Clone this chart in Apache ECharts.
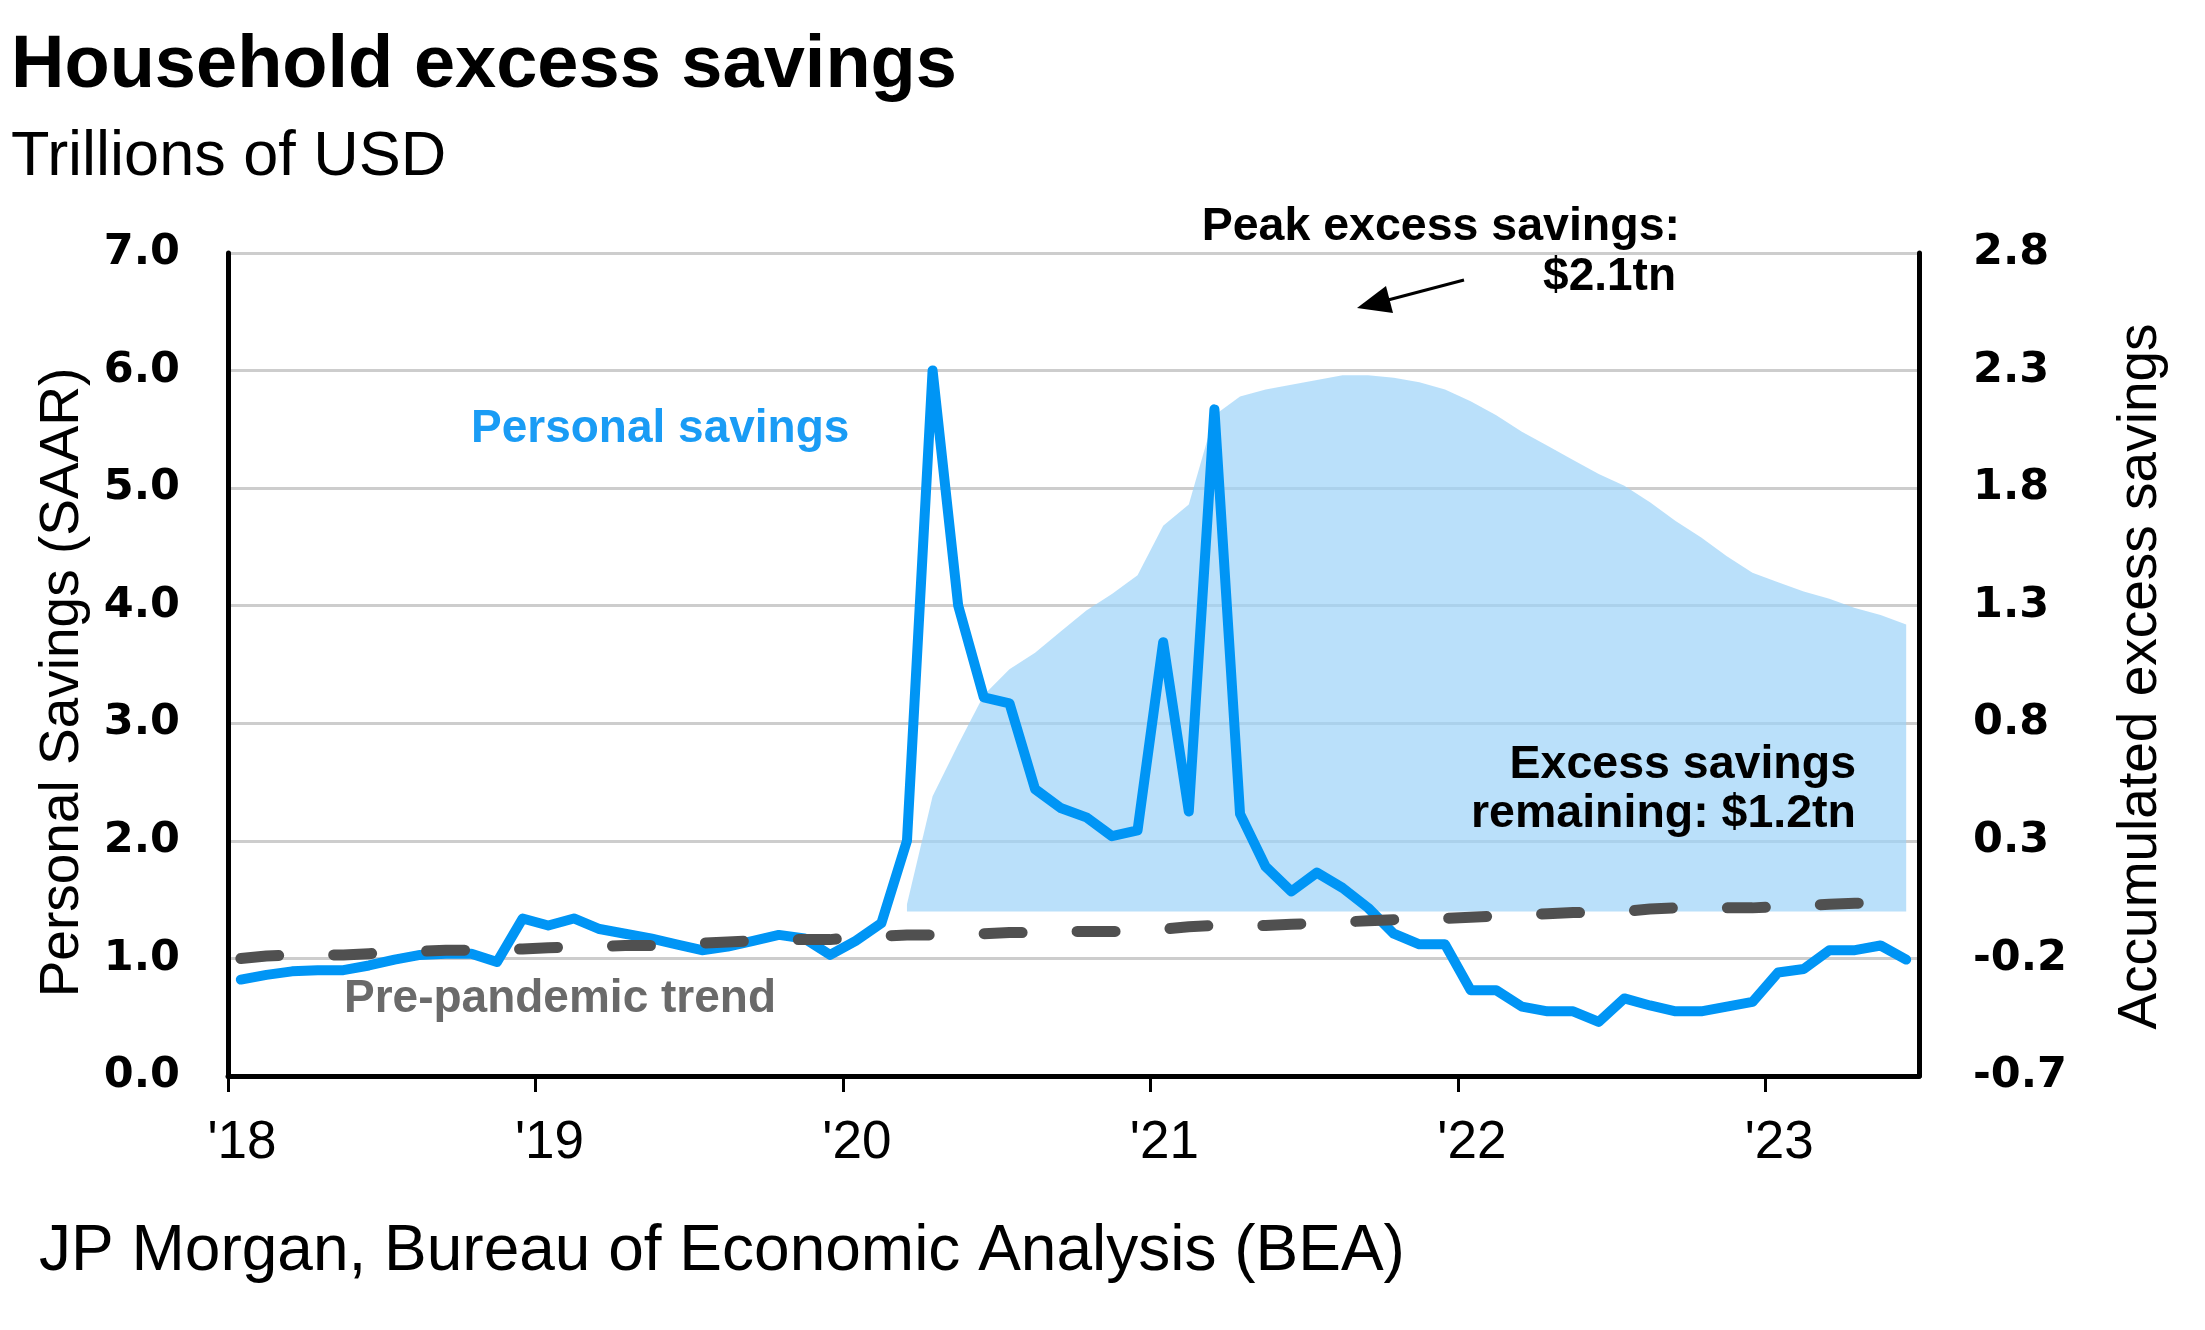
<!DOCTYPE html>
<html>
<head>
<meta charset="utf-8">
<script src="https://cdn.jsdelivr.net/npm/echarts@6/dist/echarts.min.js"></script>
<style>
html,body{margin:0;padding:0;background:#ffffff;}
#chart{width:2205px;height:1330px;}
</style>
</head>
<body>
<div id="chart"></div>
<script>
// ---------- DATA ----------
const months = [
  '2018-01','2018-02','2018-03','2018-04','2018-05','2018-06','2018-07','2018-08','2018-09','2018-10','2018-11','2018-12',
  '2019-01','2019-02','2019-03','2019-04','2019-05','2019-06','2019-07','2019-08','2019-09','2019-10','2019-11','2019-12',
  '2020-01','2020-02','2020-03','2020-04','2020-05','2020-06','2020-07','2020-08','2020-09','2020-10','2020-11','2020-12',
  '2021-01','2021-02','2021-03','2021-04','2021-05','2021-06','2021-07','2021-08','2021-09','2021-10','2021-11','2021-12',
  '2022-01','2022-02','2022-03','2022-04','2022-05','2022-06','2022-07','2022-08','2022-09','2022-10','2022-11','2022-12',
  '2023-01','2023-02','2023-03','2023-04','2023-05','2023-06'
];

// Personal savings, SAAR, trillions USD (left axis)
const personalSavings = [
  0.82, 0.86, 0.89, 0.90, 0.90, 0.94, 0.99, 1.03, 1.04, 1.04, 0.97, 1.34,
  1.28, 1.34, 1.25, 1.21, 1.17, 1.12, 1.07, 1.10, 1.15, 1.20, 1.17, 1.03,
  1.15, 1.30, 2.00, 6.00, 4.00, 3.22, 3.17, 2.44, 2.28, 2.20, 2.04, 2.09,
  3.69, 2.25, 5.67, 2.23, 1.78, 1.57, 1.73, 1.60, 1.43, 1.21, 1.12, 1.12,
  0.73, 0.73, 0.59, 0.55, 0.55, 0.46, 0.66, 0.60, 0.55, 0.55, 0.59, 0.63,
  0.88, 0.91, 1.07, 1.07, 1.11, 0.99
];

// Pre-pandemic trend (left axis)
const prePandemicTrend = [
  1.00, 1.02, 1.03, 1.03, 1.03, 1.04, 1.05, 1.06, 1.07, 1.07, 1.08, 1.08,
  1.09, 1.10, 1.10, 1.11, 1.11, 1.12, 1.13, 1.14, 1.15, 1.16, 1.16, 1.16,
  1.18, 1.19, 1.20, 1.20, 1.20, 1.21, 1.22, 1.22, 1.23, 1.23, 1.23, 1.23,
  1.25, 1.27, 1.28, 1.28, 1.28, 1.29, 1.30, 1.31, 1.32, 1.33, 1.34, 1.34,
  1.35, 1.36, 1.37, 1.38, 1.39, 1.39, 1.40, 1.42, 1.43, 1.43, 1.43, 1.43,
  1.44, 1.45, 1.46, 1.47, 1.47, 1.47
];

// Accumulated excess savings, trillions USD (right axis), from 2020-03
const excessMonths = months.slice(26);
const excessSavings = [
  0.03, 0.49, 0.71, 0.92, 1.03, 1.10, 1.19, 1.28, 1.35, 1.43,
  1.64, 1.73, 2.11, 2.19, 2.22, 2.24, 2.26, 2.28, 2.28, 2.27, 2.25, 2.22,
  2.17, 2.11, 2.04, 1.98, 1.92, 1.86, 1.81, 1.74, 1.66, 1.59, 1.51, 1.44,
  1.40, 1.36, 1.33, 1.29, 1.26, 1.22
];

const yearTicks = [2018, 2019, 2020, 2021, 2022, 2023];
const rightTicks = [-0.7, -0.2, 0.3, 0.8, 1.3, 1.8, 2.3, 2.8];

// ---------- BUILD ----------
function monthToX(m) {
  const [y, mo] = m.split('-').map(Number);
  return y + (mo - 0.5) / 12;
}
const savingsData = months.map((m, i) => [monthToX(m), personalSavings[i]]);
const trendData = months.map((m, i) => [monthToX(m), prePandemicTrend[i]]);
const excessData = excessMonths.map((m, i) => [monthToX(m), excessSavings[i]]);

const FONT = '"Liberation Sans", Arial, sans-serif';
const NUMFONT = '"DejaVu Sans", sans-serif';

const chart = echarts.init(document.getElementById('chart'), null, {renderer: 'canvas'});

const option = {
  animation: false,
  backgroundColor: '#ffffff',
  grid: {left: 228, right: 286, top: 253, bottom: 254, containLabel: false},
  xAxis: {
    type: 'value', min: 2018, max: 2023.5, interval: 1,
    axisLine: {show: true, onZero: false, lineStyle: {color: '#000', width: 5}},
    axisTick: {show: true, length: 16, customValues: yearTicks, lineStyle: {color: '#000', width: 3}},
    axisLabel: {
      customValues: yearTicks,
      formatter: v => "'" + String(Math.round(v)).slice(2),
      fontFamily: FONT, fontSize: 53, color: '#000', margin: 41,
      padding: [0, 0, 0, 28]
    },
    splitLine: {show: false}
  },
  yAxis: [
    {
      type: 'value', min: 0, max: 7, interval: 1, position: 'left',
      axisLine: {show: true, lineStyle: {color: '#000', width: 5}},
      axisTick: {show: false},
      axisLabel: {
        formatter: v => v.toFixed(1),
        fontFamily: NUMFONT, fontWeight: 'bold', fontSize: 43, color: '#000', margin: 48
      },
      splitLine: {show: true, lineStyle: {color: '#cdcdcd', width: 3}},
      name: 'Personal Savings (SAAR)', nameLocation: 'middle', nameGap: 138, nameRotate: 90,
      nameTextStyle: {fontFamily: FONT, fontSize: 55, color: '#000', padding: [0, 36, 0, 0]}
    },
    {
      type: 'value', min: -0.7, max: 2.8, position: 'right',
      axisLine: {show: true, lineStyle: {color: '#000', width: 5}},
      axisTick: {show: false},
      axisLabel: {
        customValues: rightTicks,
        formatter: v => v.toFixed(1),
        fontFamily: NUMFONT, fontWeight: 'bold', fontSize: 43, color: '#000', margin: 54
      },
      splitLine: {show: false},
      name: 'Accumulated excess savings', nameLocation: 'middle', nameGap: 194, nameRotate: 90,
      nameTextStyle: {fontFamily: FONT, fontSize: 55, color: '#000', padding: [0, 24, 0, 0]}
    }
  ],
  series: [
    {
      name: 'Accumulated excess savings', type: 'line', yAxisIndex: 1,
      data: excessData, showSymbol: false, symbol: 'none',
      lineStyle: {width: 0},
      areaStyle: {color: '#9dd3f8', opacity: 0.7},
      z: 1
    },
    {
      name: 'Personal savings', type: 'line', yAxisIndex: 0,
      data: savingsData, showSymbol: false, symbol: 'none',
      lineStyle: {color: '#0095f5', width: 10, join: 'round', cap: 'round'},
      z: 3
    },
    {
      name: 'Pre-pandemic trend', type: 'line', yAxisIndex: 0,
      data: trendData, showSymbol: false, symbol: 'none',
      lineStyle: {color: '#505050', width: 11, type: [38, 55], cap: 'round'},
      z: 4
    }
  ],
  graphic: {
    elements: [
      {type: 'text', z: 100, x: 11, y: 67, style: {text: 'Household excess savings', font: 'bold 74px ' + FONT, fill: '#000', verticalAlign: 'middle', align: 'left'}},
      {type: 'text', z: 100, x: 11, y: 158, style: {text: 'Trillions of USD', font: '63px ' + FONT, fill: '#000', verticalAlign: 'middle', align: 'left'}},
      {type: 'text', z: 100, x: 1680, y: 227, style: {text: 'Peak excess savings:', font: 'bold 46.5px ' + FONT, fill: '#000', verticalAlign: 'middle', align: 'right'}},
      {type: 'text', z: 100, x: 1676, y: 277, style: {text: '$2.1tn', font: 'bold 46px ' + FONT, fill: '#000', verticalAlign: 'middle', align: 'right'}},
      {type: 'polyline', z: 100, shape: {points: [[1464, 280], [1388, 300]]}, style: {stroke: '#000', lineWidth: 3, fill: null}},
      {type: 'polygon', z: 100, shape: {points: [[1357, 308], [1393, 313], [1386, 286]]}, style: {fill: '#000'}},
      {type: 'text', z: 100, x: 471, y: 429, style: {text: 'Personal savings', font: 'bold 46px ' + FONT, fill: '#1a9cf5', verticalAlign: 'middle', align: 'left'}},
      {type: 'text', z: 100, x: 344, y: 999, style: {text: 'Pre-pandemic trend', font: 'bold 46px ' + FONT, fill: '#6a6a6a', verticalAlign: 'middle', align: 'left'}},
      {type: 'text', z: 100, x: 1856, y: 765, style: {text: 'Excess savings', font: 'bold 46.5px ' + FONT, fill: '#000', verticalAlign: 'middle', align: 'right'}},
      {type: 'text', z: 100, x: 1856, y: 814, style: {text: 'remaining: $1.2tn', font: 'bold 46.5px ' + FONT, fill: '#000', verticalAlign: 'middle', align: 'right'}},
      {type: 'text', z: 100, x: 39, y: 1252, style: {text: 'JP Morgan, Bureau of Economic Analysis (BEA)', font: '64px ' + FONT, fill: '#000', verticalAlign: 'middle', align: 'left'}}
    ]
  }
};

chart.setOption(option);
</script>
</body>
</html>
